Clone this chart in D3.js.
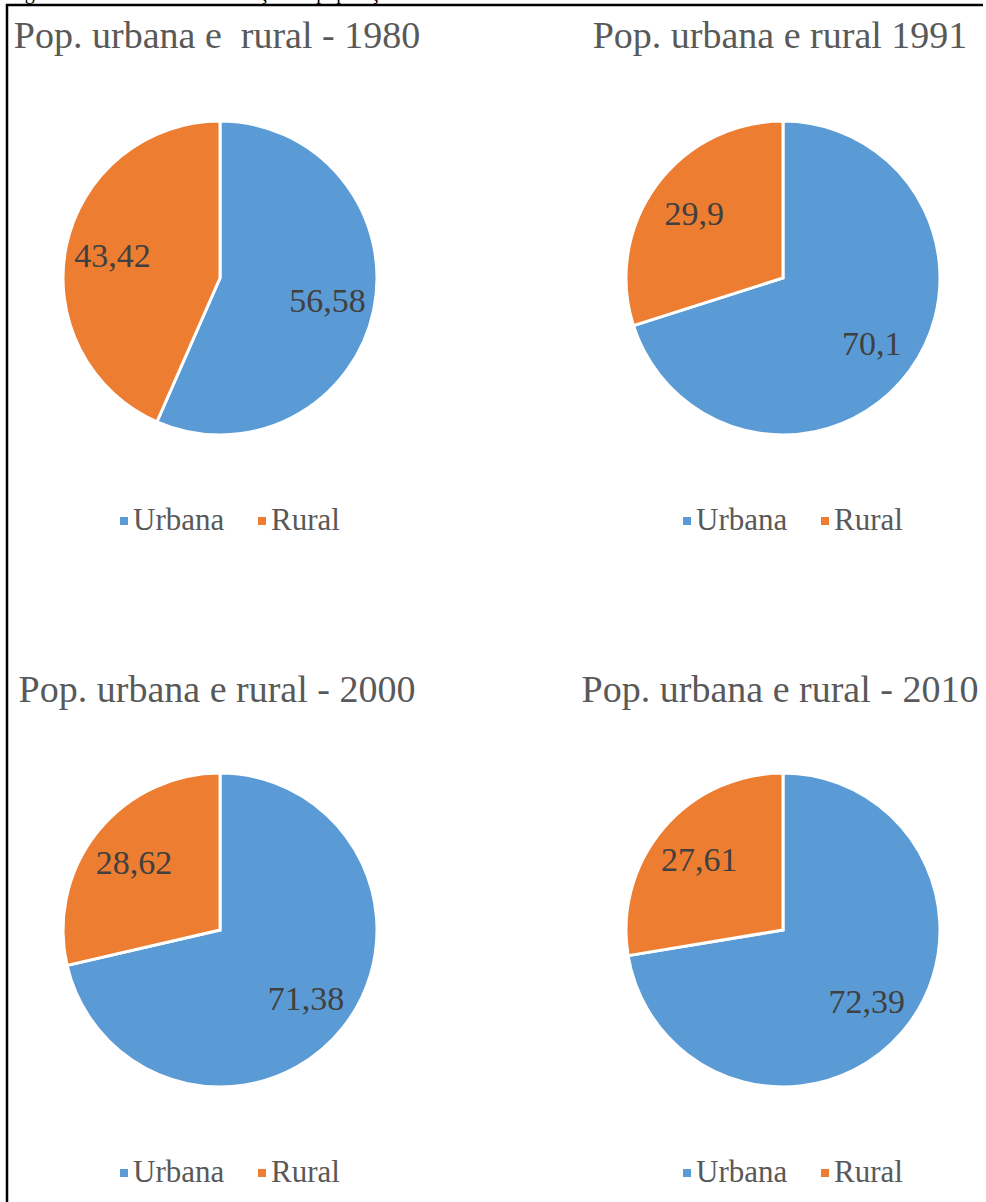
<!DOCTYPE html>
<html>
<head>
<meta charset="utf-8">
<script src="https://cdn.jsdelivr.net/npm/d3@7"></script>
<style>
	body { margin: 0; background: #fff; }
	svg { display: block; }
	text { font-family: "Liberation Serif", "Times New Roman", serif; }
</style>
</head>
<body>
<div id="container"></div>
<script>
const titles = [
	"Pop. urbana e  rural - 1980",
	"Pop. urbana e rural 1991",
	"Pop. urbana e rural - 2000",
	"Pop. urbana e rural - 2010",
];
const categories = ["Urbana", "Rural"];
const urbana = [56.58, 70.1, 71.38, 72.39];
const rural = [43.42, 29.9, 28.62, 27.61];
const colors = ["#5b9bd5", "#ed7d31"];

const width = 986;
const height = 1202;
const radius = 157;
const colCenters = [220, 783];
const rowCenters = [278, 930];

const locale = d3.formatLocale({ decimal: ",", thousands: ".", grouping: [3], currency: ["", ""] });
const fmt = (v) => locale.format("")(v);

const color = d3.scaleOrdinal(categories, colors);
const pie = d3.pie().sort(null).value((d) => d.value);
const arc = d3.arc().innerRadius(0).outerRadius(radius);
const labelArc = d3.arc().innerRadius(radius * 0.7).outerRadius(radius * 0.7);

const svg = d3
	.select("#container")
	.append("svg")
	.attr("width", width)
	.attr("height", height);

// caption above the frame, cropped in the source
svg
	.append("text")
	.attr("x", 8)
	.attr("y", -1)
	.attr("fill", "#000")
	.style("font-size", "20px")
	.text("Figura 2 – Gráficos da distribuição da população urbana e rural");

// frame
svg
	.append("path")
	.attr("d", "M7,1210 L7,5 L983,5")
	.attr("fill", "none")
	.attr("stroke", "#000")
	.attr("stroke-width", 2.5);

titles.forEach((title, i) => {
	const cx = colCenters[i % 2];
	const cy = rowCenters[Math.floor(i / 2)];
	const data = categories.map((c, k) => ({ key: c, value: k === 0 ? urbana[i] : rural[i] }));

	const g = svg.append("g");

	g.append("text")
		.attr("x", cx - 3)
		.attr("y", cy - 230 + (i > 1 ? 2 : 0))
		.attr("text-anchor", "middle")
		.attr("fill", "#595959")
		.style("font-size", "38px")
		.style("white-space", "pre")
		.text(title);

	const pieG = g.append("g").attr("transform", `translate(${cx},${cy})`);

	pieG
		.selectAll("path")
		.data(pie(data))
		.join("path")
		.attr("d", arc)
		.attr("fill", (d) => color(d.data.key))
		.attr("stroke", "#fff")
		.attr("stroke-width", 3);

	pieG
		.selectAll("text")
		.data(pie(data))
		.join("text")
		.attr("transform", (d) => `translate(${labelArc.centroid(d)})`)
		.attr("text-anchor", "middle")
		.attr("dy", "0.35em")
		.attr("fill", "#404040")
		.style("font-size", "34px")
		.text((d) => fmt(d.data.value));

	const legend = g.append("g").attr("transform", `translate(${cx},${cy + 252})`);
	const offsets = [-100, 38];
	categories.forEach((c, k) => {
		legend
			.append("rect")
			.attr("x", offsets[k])
			.attr("y", -13)
			.attr("width", 8)
			.attr("height", 8)
			.attr("fill", color(c));
		legend
			.append("text")
			.attr("x", offsets[k] + 13)
			.attr("y", 0)
			.attr("fill", "#595959")
			.style("font-size", "31px")
			.text(c);
	});
});
</script>
</body>
</html>
